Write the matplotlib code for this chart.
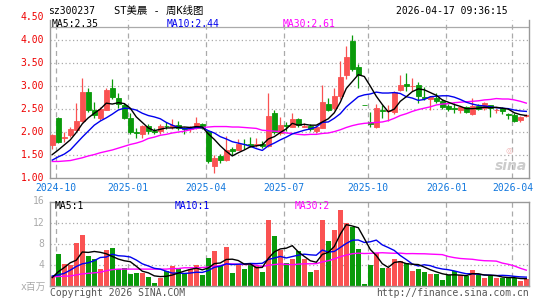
import matplotlib
matplotlib.use("Agg")
import matplotlib.pyplot as plt

# weekly K-line, oldest first (2024-09-27 .. 2026-04-17)
opens = [1.70, 2.29, 1.87, 1.92, 2.04, 2.24, 2.87, 2.48, 2.30, 2.48,
         2.94, 2.74, 2.58, 2.30, 2.00, 1.94, 2.12, 2.02, 2.01, 2.13,
         2.10, 2.14, 2.08, 2.05, 2.08, 2.17, 2.01, 1.26, 1.46, 1.39,
         1.62, 1.61, 1.74, 1.74, 1.70, 1.72, 1.69, 2.41, 1.96, 2.14,
         2.11, 2.27, 2.10, 2.12, 2.01, 2.08, 2.61, 2.52, 2.78, 3.23,
         3.98, 3.40, 2.58, 2.21, 2.09, 2.46, 2.44, 2.43, 2.90, 3.04,
         2.99, 3.02, 2.75, 2.70, 2.73, 2.66, 2.55, 2.51, 2.47, 2.53,
         2.38, 2.56, 2.52, 2.57, 2.46, 2.51, 2.38, 2.36, 2.25, 2.33]
highs = [1.94, 2.32, 1.99, 2.09, 2.63, 3.16, 2.96, 2.65, 2.53, 2.96,
         3.14, 2.83, 2.63, 2.41, 2.08, 2.15, 2.17, 2.08, 2.17, 2.21,
         2.28, 2.24, 2.09, 2.13, 2.32, 2.19, 2.03, 1.50, 1.51, 1.90,
         1.67, 1.83, 1.83, 1.89, 1.87, 1.79, 2.83, 2.46, 2.31, 2.21,
         2.41, 2.30, 2.19, 2.16, 2.13, 3.02, 2.74, 2.96, 3.54, 3.87,
         4.11, 3.48, 2.58, 2.42, 2.60, 2.59, 2.58, 2.88, 3.23, 3.28,
         3.16, 3.09, 2.97, 2.77, 2.85, 2.70, 2.60, 2.63, 2.56, 2.56,
         2.73, 2.61, 2.65, 2.58, 2.52, 2.53, 2.41, 2.41, 2.34, 2.38]
lows = [1.63, 1.75, 1.77, 1.89, 2.02, 2.22, 2.43, 2.30, 2.26, 2.46,
        2.72, 2.52, 2.27, 1.94, 1.86, 1.86, 1.95, 1.95, 1.95, 2.05,
        2.05, 2.03, 1.94, 2.00, 2.05, 2.05, 1.32, 1.10, 1.32, 1.35,
        1.49, 1.59, 1.63, 1.67, 1.67, 1.65, 1.67, 1.94, 1.93, 2.01,
        2.09, 2.09, 2.09, 2.02, 1.98, 2.07, 2.45, 2.46, 2.70, 3.14,
        3.32, 2.96, 2.58, 2.10, 2.07, 2.30, 2.23, 2.39, 2.89, 2.89,
        2.89, 2.63, 2.68, 2.48, 2.62, 2.50, 2.44, 2.41, 2.40, 2.41,
        2.36, 2.47, 2.47, 2.32, 2.41, 2.38, 2.27, 2.21, 2.21, 2.31]
closes = [1.92, 1.78, 1.89, 2.05, 2.24, 2.87, 2.46, 2.36, 2.50, 2.91,
          2.76, 2.61, 2.29, 1.99, 1.96, 2.13, 2.02, 1.99, 2.13, 2.12,
          2.14, 2.08, 2.05, 2.08, 2.19, 2.08, 1.37, 1.43, 1.39, 1.59,
          1.58, 1.72, 1.73, 1.71, 1.72, 1.69, 2.34, 2.00, 2.14, 2.13,
          2.28, 2.14, 2.12, 2.05, 2.10, 2.65, 2.48, 2.77, 3.19, 3.63,
          3.36, 3.23, 2.58, 2.16, 2.52, 2.45, 2.46, 2.87, 3.02, 2.99,
          3.00, 2.78, 2.74, 2.75, 2.66, 2.54, 2.49, 2.50, 2.54, 2.43,
          2.56, 2.50, 2.62, 2.51, 2.48, 2.45, 2.37, 2.24, 2.32, 2.36]

ma5 = [1.50, 1.60, 1.71, 1.82, 1.98, 2.17, 2.30, 2.40, 2.49, 2.62,
       2.60, 2.63, 2.61, 2.51, 2.32, 2.20, 2.08, 2.02, 2.05, 2.08,
       2.08, 2.09, 2.10, 2.09, 2.11, 2.10, 1.95, 1.83, 1.69, 1.57,
       1.47, 1.54, 1.60, 1.67, 1.69, 1.71, 1.84, 1.89, 1.98, 2.06,
       2.18, 2.14, 2.16, 2.14, 2.14, 2.21, 2.28, 2.41, 2.64, 2.94,
       3.09, 3.24, 3.20, 2.99, 2.77, 2.59, 2.43, 2.49, 2.66, 2.76,
       2.87, 2.93, 2.91, 2.85, 2.79, 2.69, 2.64, 2.59, 2.55, 2.50,
       2.50, 2.51, 2.53, 2.52, 2.53, 2.51, 2.49, 2.41, 2.37, 2.35]
ma10 = [1.38, 1.45, 1.51, 1.60, 1.74, 1.88, 2.01, 2.14, 2.23, 2.30,
        2.38, 2.47, 2.51, 2.50, 2.47, 2.40, 2.35, 2.32, 2.28, 2.20,
        2.14, 2.09, 2.06, 2.07, 2.09, 2.09, 2.02, 1.97, 1.89, 1.84,
        1.78, 1.75, 1.72, 1.68, 1.63, 1.59, 1.69, 1.75, 1.82, 1.88,
        1.95, 1.99, 2.03, 2.06, 2.10, 2.20, 2.21, 2.29, 2.39, 2.54,
        2.65, 2.76, 2.80, 2.82, 2.86, 2.84, 2.84, 2.85, 2.83, 2.76,
        2.73, 2.68, 2.70, 2.76, 2.77, 2.78, 2.78, 2.75, 2.70, 2.64,
        2.60, 2.57, 2.56, 2.54, 2.52, 2.51, 2.50, 2.47, 2.45, 2.44]
ma30 = [1.35, 1.35, 1.36, 1.37, 1.40, 1.43, 1.47, 1.50, 1.54, 1.57,
        1.60, 1.64, 1.68, 1.72, 1.75, 1.79, 1.85, 1.88, 1.92, 1.94,
        1.97, 1.99, 2.01, 2.04, 2.07, 2.09, 2.10, 2.11, 2.11, 2.11,
        2.10, 2.10, 2.09, 2.08, 2.07, 2.03, 2.02, 2.01, 2.00, 1.97,
        1.96, 1.94, 1.93, 1.94, 1.94, 1.96, 1.97, 2.00, 2.04, 2.09,
        2.13, 2.16, 2.18, 2.19, 2.20, 2.21, 2.24, 2.29, 2.35, 2.39,
        2.44, 2.48, 2.51, 2.54, 2.58, 2.60, 2.61, 2.63, 2.64, 2.65,
        2.66, 2.67, 2.69, 2.70, 2.72, 2.71, 2.71, 2.69, 2.66, 2.62]

# volume in millions of shares
volume = [1.9, 6.1, 4.2, 4.0, 8.2, 9.7, 5.7, 5.1, 3.2, 6.8,
          7.2, 3.2, 3.5, 2.3, 2.5, 2.5, 1.7, 0.6, 1.6, 2.8,
          3.7, 3.5, 2.5, 3.2, 4.0, 2.1, 5.3, 6.6, 3.8, 7.3,
          2.4, 4.0, 3.2, 4.0, 3.7, 2.7, 12.5, 9.4, 6.8, 4.4,
          5.1, 6.6, 5.1, 2.7, 3.0, 12.5, 8.6, 10.6, 14.4, 12.0,
          11.2, 7.0, 0.4, 4.0, 6.2, 3.5, 3.5, 5.1, 4.8, 4.3,
          2.9, 3.2, 2.7, 2.3, 2.3, 1.1, 2.1, 2.8, 2.0, 1.8,
          3.0, 2.0, 1.6, 1.8, 1.5, 1.6, 1.5, 1.5, 1.0, 1.3]
vma5 = [1.6, 2.7, 3.5, 4.4, 4.88, 6.44, 6.36, 6.54, 6.38, 6.10,
        5.60, 5.10, 4.78, 4.60, 3.74, 2.80, 2.50, 1.92, 1.78, 1.84,
        2.08, 2.44, 2.82, 3.14, 3.38, 3.06, 3.42, 4.24, 4.36, 5.02,
        5.08, 4.82, 4.14, 4.18, 3.46, 3.52, 5.22, 6.46, 7.02, 7.16,
        7.64, 6.46, 5.60, 4.78, 4.50, 5.98, 6.38, 7.48, 9.82, 11.62,
        11.36, 11.04, 9.00, 6.92, 5.76, 4.22, 3.52, 4.46, 4.62, 4.24,
        4.12, 4.06, 3.58, 3.08, 2.68, 2.32, 2.10, 2.12, 2.06, 1.96,
        2.34, 2.32, 2.08, 2.04, 1.98, 1.70, 1.60, 1.58, 1.42, 1.38]
vma10 = [1.9, 2.1, 2.4, 3.0, 3.7, 4.2, 4.4, 4.8, 5.4, 5.49,
         6.02, 5.73, 5.66, 5.49, 4.92, 4.20, 3.80, 3.35, 3.19, 2.79,
         2.44, 2.47, 2.37, 2.46, 2.61, 2.57, 2.93, 3.53, 3.75, 4.20,
         4.07, 4.12, 4.19, 4.27, 4.24, 4.30, 5.02, 5.30, 5.60, 5.31,
         5.58, 5.84, 6.03, 5.90, 5.83, 6.81, 6.42, 6.54, 7.30, 8.06,
         8.67, 8.71, 8.24, 8.37, 8.69, 7.79, 7.28, 6.73, 5.77, 5.00,
         4.17, 3.79, 4.02, 3.85, 3.46, 3.22, 3.08, 2.85, 2.57, 2.32,
         2.33, 2.21, 2.10, 2.05, 1.97, 2.02, 1.96, 1.83, 1.73, 1.68]
vma30 = [1.75, 1.8, 1.85, 1.9, 2.1, 2.3, 2.4, 2.5, 2.6, 2.9,
         3.1, 3.2, 3.2, 3.2, 3.2, 3.2, 3.2, 3.2, 3.2, 3.2,
         3.3, 3.3, 3.45, 3.45, 3.45, 3.5, 3.6, 3.75, 3.85, 4.16,
         4.18, 4.11, 4.07, 4.07, 3.92, 3.69, 3.92, 4.06, 4.18, 4.10,
         4.03, 4.14, 4.20, 4.21, 4.23, 4.56, 4.79, 5.12, 5.55, 5.86,
         6.11, 6.22, 6.15, 6.18, 6.25, 6.30, 6.24, 6.19, 6.22, 6.12,
         6.14, 6.11, 6.10, 6.04, 5.99, 5.94, 5.59, 5.37, 5.21, 5.13,
         5.06, 4.90, 4.79, 4.76, 4.71, 4.34, 4.11, 3.80, 3.36, 3.00]

month_pos = [1, 13, 26, 39, 53, 66, 77]
month_labels = ["2024-10", "2025-01", "2025-04", "2025-07", "2025-10", "2026-01", "2026-04"]
price_ticks = [1.0, 1.5, 2.0, 2.5, 3.0, 3.5, 4.0]
vol_ticks = [4, 8, 12, 16]

RED = "#fa5252"
GREEN = "#0a9a0a"
GRID = "#aaaaaa"
MONO = ["DejaVu Sans Mono", "Noto Sans CJK SC"]

W, H = 545, 300
fig = plt.figure(figsize=(W / 100, H / 100), dpi=100)


def fx(px):
    return px / W


def fy(py):
    return 1 - py / H


ax = fig.add_axes([fx(50), fy(178), fx(479), (178 - 20) / H])
axv = fig.add_axes([fx(50), fy(286), fx(479), (286 - 201.5) / H])

n = len(closes)
xs = list(range(n))
colors = []
for i in range(n):
    if closes[i] > opens[i]:
        colors.append(RED)
    elif closes[i] < opens[i]:
        colors.append(GREEN)
    else:
        colors.append(RED if i > 0 and closes[i] >= closes[i - 1] else GREEN)

for a in (ax, axv):
    a.set_xlim(-0.38, 79.45)
    for p in month_pos:
        a.axvline(p - 0.32, color=GRID, lw=0.9, ls=(0, (4, 3)), zorder=0)
    for s in a.spines.values():
        s.set_color("#999999")
        s.set_linewidth(1.0)
    a.tick_params(length=0)
    a.set_xticks([])
ax.spines["top"].set_visible(False)

# price panel
ax.set_ylim(0.99, 4.43)
for v in price_ticks[1:]:
    ax.axhline(v, color=GRID, lw=0.9, ls=(0, (1, 2)), zorder=0)
ax.axhline(4.28, color="#aaaaaa", lw=0.9, zorder=1)
ax.set_yticks([])

ax.vlines(xs, lows, highs, colors=colors, lw=0.9, zorder=2)
bottoms = [min(o, c) for o, c in zip(opens, closes)]
heights = [abs(c - o) for o, c in zip(opens, closes)]
ax.bar(xs, heights, bottom=bottoms, width=0.78, color=colors,
       edgecolor=colors, linewidth=0.6, zorder=3)
ax.plot(xs, ma30, color="#ff00ff", lw=1.0, zorder=4)
ax.plot(xs, ma10, color="#0000ee", lw=1.0, zorder=4)
ax.plot(xs, ma5, color="#000000", lw=1.0, zorder=5)

for v in price_ticks + [4.5]:
    ax.text(-0.012, v, f"{v:.2f}", transform=ax.get_yaxis_transform(),
            ha="right", va="center", color="#ee0000", fontsize=7,
            family=MONO, clip_on=False)
for p, lab in zip(month_pos, month_labels):
    ax.text(p - 0.32, -0.03, lab, transform=ax.get_xaxis_transform(),
            ha="center", va="top", color="#1177dd", fontsize=7, family=MONO)

fig.text(fx(52), fy(24), "MA5:2.35", color="black", fontsize=7, family=MONO, va="center")
fig.text(fx(167), fy(24), "MA10:2.44", color="#0000ee", fontsize=7, family=MONO, va="center")
fig.text(fx(283), fy(24), "MA30:2.61", color="#ff00ff", fontsize=7, family=MONO, va="center")

# sina watermark
fig.text(fx(511), fy(166), "sina", color="#cccccc", fontsize=10, style="italic",
         weight="bold", ha="center", va="center")
fig.text(fx(509), fy(151), "\u25ce", color="#f2b8b8", fontsize=6, ha="center", va="center")

# volume panel
axv.set_ylim(0, 16)
for v in vol_ticks[:-1]:
    axv.axhline(v, color=GRID, lw=0.9, ls=(0, (1, 2)), zorder=0)
axv.set_yticks([])
axv.bar(xs, volume, width=0.78, color=colors, linewidth=0, zorder=2)
axv.plot(xs, vma30, color="#ff00ff", lw=1.0, zorder=4)
axv.plot(xs, vma10, color="#0000ee", lw=1.0, zorder=4)
axv.plot(xs, vma5, color="#000000", lw=1.0, zorder=5)
for v in vol_ticks:
    axv.text(-0.012, v, str(v), transform=axv.get_yaxis_transform(),
             ha="right", va="center", color="#aaaaaa", fontsize=7, family=MONO)
fig.text(fx(46), fy(287), "x百万", color="#aaaaaa", fontsize=7, family=MONO,
         ha="right", va="center")

fig.text(fx(55), fy(206), "MA5:1", color="black", fontsize=7, family=MONO, va="center")
fig.text(fx(175), fy(206), "MA10:1", color="#0000ee", fontsize=7, family=MONO, va="center")
fig.text(fx(295), fy(206), "MA30:2", color="#ff00ff", fontsize=7, family=MONO, va="center")

# header and footer
fig.text(fx(48), fy(11), "sz300237", color="black", fontsize=7, family=MONO, va="center")
fig.text(fx(114), fy(11), "ST美晨 - 周K线图", color="black", fontsize=7.5, family=MONO, va="center")
fig.text(fx(508), fy(11), "2026-04-17 09:36:15", color="black", fontsize=7, family=MONO,
         ha="right", va="center")
fig.text(fx(50), fy(293), "Copyright 2026 SINA.COM", color="#555555", fontsize=7,
         family=MONO, va="center")
fig.text(fx(529), fy(293), "http://finance.sina.com.cn", color="#555555", fontsize=7,
         family=MONO, ha="right", va="center")

fig.savefig("out.png", dpi=100, facecolor="white")
